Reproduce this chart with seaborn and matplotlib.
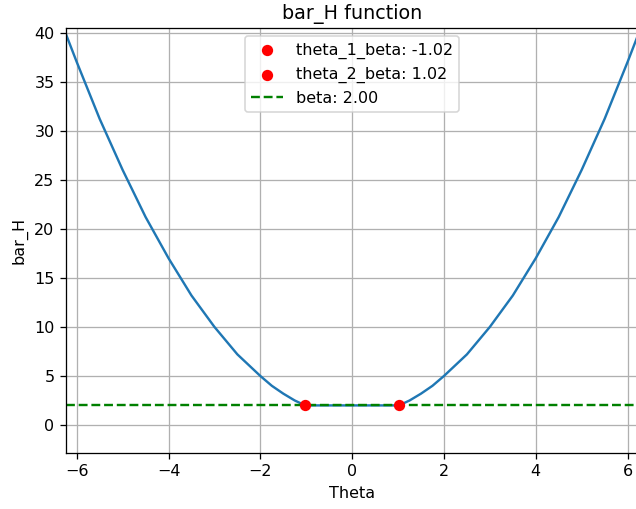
import matplotlib
matplotlib.use("Agg")
import matplotlib.pyplot as plt
import seaborn as sns
import numpy as np

# curve values
theta = [-6.24, -6.0, -5.75, -5.5, -5.25, -5.0, -4.75, -4.5, -4.25, -4.0, -3.75, -3.5,
         -3.25, -3.0, -2.75, -2.5, -2.25, -2.0, -1.75, -1.5, -1.25, -1.02,
         -0.5, 0.0, 0.5,
         1.02, 1.25, 1.5, 1.75, 2.0, 2.25, 2.5, 2.75, 3.0, 3.25, 3.5, 3.75, 4.0,
         4.25, 4.5, 4.75, 5.0, 5.25, 5.5, 5.75, 6.0, 6.24]
bar_h = [39.9, 37.0, 34.1, 31.2, 28.6, 26.0, 23.6, 21.2, 19.1, 17.0, 15.1, 13.2,
         11.6, 10.0, 8.6, 7.2, 6.1, 5.0, 4.0, 3.2, 2.5, 2.0,
         2.0, 2.0, 2.0,
         2.0, 2.5, 3.2, 4.0, 5.0, 6.1, 7.2, 8.6, 10.0, 11.6, 13.2, 15.1, 17.0,
         19.1, 21.2, 23.6, 26.0, 28.6, 31.2, 34.1, 37.0, 39.9]
theta_1_beta = -1.02
theta_2_beta = 1.02
beta = 2.00

DPI = 115
fig = plt.figure(figsize=(636 / DPI, 509 / DPI), dpi=DPI)
ax = fig.add_axes([65.7 / 636, (509 - 453.3) / 509, 572.9 / 636, 425 / 509])

sns.lineplot(x=theta, y=bar_h, ax=ax, color="#1f77b4", linewidth=1.5)
sns.scatterplot(x=[theta_1_beta], y=[beta], ax=ax, color="red", s=50, linewidth=0,
                label=f"theta_1_beta: {theta_1_beta:.2f}", zorder=3)
sns.scatterplot(x=[theta_2_beta], y=[beta], ax=ax, color="red", s=50, linewidth=0,
                label=f"theta_2_beta: {theta_2_beta:.2f}", zorder=3)
ax.axhline(beta, color="green", linestyle="--", linewidth=1.5, label=f"beta: {beta:.2f}")

ax.set_xlim(-6.24, 6.24)
ax.set_ylim(-2.88, 40.43)
ax.set_xticks([-6, -4, -2, 0, 2, 4, 6])
ax.set_yticks([0, 5, 10, 15, 20, 25, 30, 35, 40])
ax.grid(True, color="#b0b0b0", linewidth=0.8)
ax.set_axisbelow(True)
ax.set_title("bar_H function", fontsize=12)
ax.set_xlabel("Theta")
ax.set_ylabel("bar_H")
ax.legend(loc="upper center", fontsize=10)

fig.savefig("out.png", dpi=DPI)
